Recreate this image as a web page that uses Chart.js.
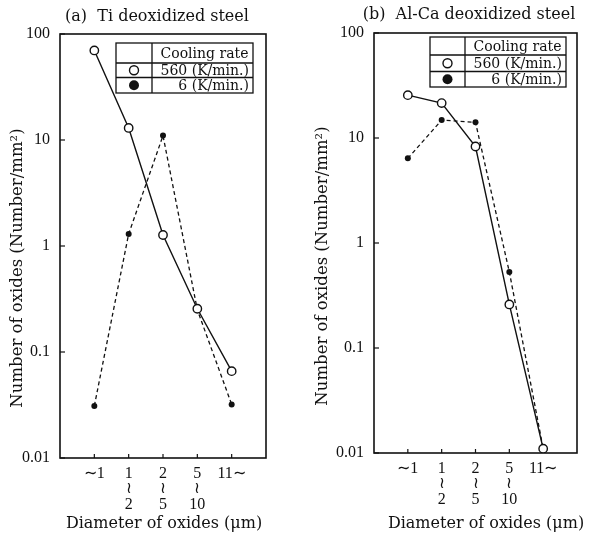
<!DOCTYPE html>
<html><head><meta charset="utf-8">
<script src="https://cdn.jsdelivr.net/npm/chart.js@4"></script>
<style>
body{margin:0;background:#fff;width:590px;height:539px;position:relative;overflow:hidden}
.pane{position:absolute;top:0;width:295px;height:539px}
#pa{left:0}#pb{left:295px}
</style></head><body>
<div class="pane" id="pa"><canvas id="ca"></canvas></div>
<div class="pane" id="pb"><canvas id="cb"></canvas></div>
<script>
// ---- data ----
const categories = ['∼1', '1∼2', '2∼5', '5∼10', '11∼'];
const tickLines = [['∼1'], ['1', '≀', '2'], ['2', '≀', '5'], ['5', '≀', '10'], ['11∼']];
const yTicks = [0.01, 0.1, 1, 10, 100];
const seriesNames = ['560 (K/min.)', '6 (K/min.)'];
const tiFast = [70, 13, 1.27, 0.256, 0.066];
const tiSlow = [0.031, 1.3, 11, 0.25, 0.032];
const alFast = [25.6, 21.5, 8.3, 0.26, 0.011];
const alSlow = [6.4, 14.8, 14.1, 0.53, 0.011];

const FONT = "'DejaVu Serif', serif";
const NUMFONT = "'Liberation Serif', serif";
const INK = '#111';

const decor = {
  id: 'decor',
  beforeDatasetsDraw(chart, args, o) {
    const ctx = chart.ctx, a = chart.chartArea;
    ctx.save();
    ctx.strokeStyle = INK;
    ctx.lineWidth = 1.6;
    ctx.strokeRect(a.left, a.top, a.right - a.left, a.bottom - a.top);
    ctx.lineWidth = 1.2;
    const ys = chart.scales.y, xs = chart.scales.x;
    ys.ticks.forEach(t => {
      const y = ys.getPixelForValue(t.value);
      ctx.beginPath(); ctx.moveTo(a.left, y); ctx.lineTo(a.left + 5, y); ctx.stroke();
    });
    xs.ticks.forEach(t => {
      const x = xs.getPixelForValue(t.value);
      ctx.beginPath(); ctx.moveTo(x, a.bottom); ctx.lineTo(x, a.bottom - 4); ctx.stroke();
    });
    ctx.restore();
  },
  afterDraw(chart, args, o) {
    const ctx = chart.ctx;
    ctx.save();
    ctx.fillStyle = INK;
    ctx.textBaseline = 'middle';
    // panel title
    ctx.font = '16px ' + FONT;
    ctx.textAlign = 'center';
    ctx.fillText(o.title, o.titleX, o.titleY);
    // x title
    ctx.font = '16px ' + FONT;
    ctx.fillText('Diameter of oxides (μm)', o.xtX, o.xtY);
    // y title
    ctx.save();
    ctx.translate(o.ytX, o.ytY);
    ctx.rotate(-Math.PI / 2);
    ctx.font = '16.5px ' + FONT;
    ctx.fillText('Number of oxides (Number/mm²)', 0, 0);
    ctx.restore();
    // legend table
    const L = o.leg;
    const x0 = L.x, x1 = L.x + L.w, xd = L.x + L.c;
    const r1 = L.y + L.h0, r2 = r1 + L.h1, r3 = r2 + L.h2;
    ctx.strokeStyle = INK;
    ctx.lineWidth = 1.3;
    ctx.fillStyle = '#fff';
    ctx.fillRect(x0, L.y, L.w, r3 - L.y);
    ctx.strokeRect(x0, L.y, L.w, r3 - L.y);
    ctx.beginPath();
    ctx.moveTo(xd, L.y); ctx.lineTo(xd, r3);
    ctx.moveTo(x0, r1); ctx.lineTo(x1, r1);
    ctx.moveTo(x0, r2); ctx.lineTo(x1, r2);
    ctx.stroke();
    ctx.fillStyle = INK;
    ctx.font = '14px ' + FONT;
    ctx.textAlign = 'center';
    ctx.fillText('Cooling rate', (xd + x1) / 2 + 2, (L.y + r1) / 2 + 1);
    ctx.textAlign = 'right';
    ctx.fillText(seriesNames[0], x1 - 4, (r1 + r2) / 2 + 1);
    ctx.fillText(seriesNames[1], x1 - 4, (r2 + r3) / 2 + 1);
    const cx = (x0 + xd) / 2;
    ctx.lineWidth = 1.4;
    ctx.beginPath(); ctx.arc(cx, (r1 + r2) / 2, 4.5, 0, Math.PI * 2);
    ctx.fillStyle = '#fff'; ctx.fill(); ctx.stroke();
    ctx.beginPath(); ctx.arc(cx, (r2 + r3) / 2, 5, 0, Math.PI * 2);
    ctx.fillStyle = INK; ctx.fill();
    ctx.restore();
  }
};

function makeChart(id, fast, slow, geo, deco) {
  const toPts = arr => arr.map((v, i) => ({ x: i, y: v }));
  return new Chart(document.getElementById(id), {
    type: 'line',
    data: {
      datasets: [
        { label: seriesNames[0], data: toPts(fast), borderColor: INK, borderWidth: 1.4,
          pointRadius: 4.2, pointBackgroundColor: '#fff', pointBorderColor: INK, pointBorderWidth: 1.4,
          tension: 0 },
        { label: seriesNames[1], data: toPts(slow), borderColor: INK, borderWidth: 1.3,
          borderDash: [4, 3], pointRadius: 3, pointBackgroundColor: INK, pointBorderColor: INK,
          pointBorderWidth: 0, tension: 0 }
      ]
    },
    options: {
      responsive: false, animation: false, devicePixelRatio: 1,
      layout: { padding: { top: geo.top, right: geo.right, left: 0, bottom: 0 } },
      plugins: { legend: { display: false }, tooltip: { enabled: false }, decor: deco },
      scales: {
        x: {
          type: 'linear', min: -1, max: 5,
          grid: { display: false, drawTicks: false }, border: { display: false },
          afterBuildTicks: s => { s.ticks = categories.map((c, i) => ({ value: i })); },
          afterFit: s => { s.height = geo.xh; },
          ticks: {
            color: INK, padding: 8, maxRotation: 0, autoSkip: false,
            font: { family: NUMFONT, size: 16, lineHeight: 0.97 },
            callback: v => tickLines[v]
          }
        },
        y: {
          type: 'logarithmic', min: 0.01, max: 100,
          grid: { display: false, drawTicks: false }, border: { display: false },
          afterBuildTicks: s => { s.ticks = yTicks.map(v => ({ value: v })); },
          afterFit: s => { s.width = geo.yw; },
          ticks: {
            color: INK, padding: 10,
            font: { family: NUMFONT, size: 16 },
            callback: v => String(v)
          }
        }
      }
    },
    plugins: [decor]
  });
}

const ca = document.getElementById('ca'); ca.width = 295; ca.height = 539;
const cb = document.getElementById('cb'); cb.width = 295; cb.height = 539;

makeChart('ca', tiFast, tiSlow, { top: 34, right: 29, xh: 81, yw: 60 }, {
  title: '(a)  Ti deoxidized steel', titleX: 157, titleY: 17,
  xtX: 164, xtY: 524, ytX: 18, ytY: 268,
  leg: { x: 116, y: 43, w: 137, c: 36, h0: 20, h1: 14.5, h2: 15.5 }
});
makeChart('cb', alFast, alSlow, { top: 33, right: 13, xh: 86, yw: 79 }, {
  title: '(b)  Al-Ca deoxidized steel', titleX: 174, titleY: 15,
  xtX: 191, xtY: 524, ytX: 28, ytY: 266,
  leg: { x: 135, y: 37, w: 136, c: 35, h0: 18, h1: 16.5, h2: 15.5 }
});
</script>
</body></html>
